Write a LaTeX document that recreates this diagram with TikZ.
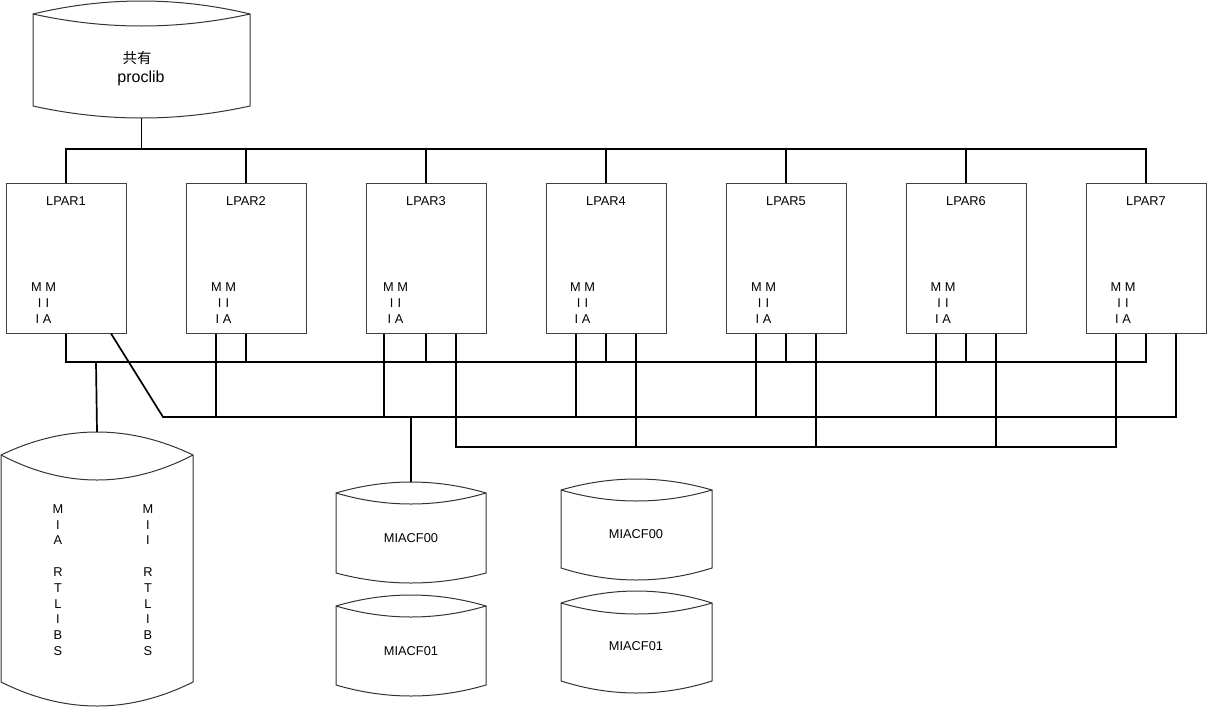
\documentclass[tikz,border=0pt]{standalone}
\usepackage{fontspec}
\setmainfont{Liberation Sans}
\newfontfamily\cjk{Noto Sans CJK JP}
\usetikzlibrary{calc}
\tikzset{
  conn/.style={line width=1.7pt, black},
  lpar/.style={draw=black!75, line width=1pt, fill=white, minimum width=120pt, minimum height=150pt, inner sep=0pt},
  drum/.style={draw=black!80, line width=1pt, fill=white},
  txt/.style={inner sep=0pt, font=\fontsize{12.8}{16}\selectfont, align=center},
  vtxt/.style={inner sep=0pt, font=\fontsize{12.8}{15.8}\selectfont, align=center},
}
% name, x1, x2, ytop side, up bulge, down bulge, ybot side, bottom bulge
\newcommand\mydrum[8]{%
  \pgfmathsetmacro\dw{(#3-#2)/3}%
  \pgfmathsetmacro\ku{4*#5/3}%
  \pgfmathsetmacro\kd{4*#6/3}%
  \pgfmathsetmacro\kb{4*#8/3}%
  \draw[drum] (#2,#4) .. controls ({#2+\dw},{#4-\ku}) and ({#3-\dw},{#4-\ku}) .. (#3,#4)
     -- (#3,#7) .. controls ({#3-\dw},{#7+\kb}) and ({#2+\dw},{#7+\kb}) .. (#2,#7) -- cycle;
  \draw[drum, fill=none] (#3,#4) .. controls ({#3-\dw},{#4+\kd}) and ({#2+\dw},{#4+\kd}) .. (#2,#4);
  \coordinate (#1-top) at ({(#2+#3)/2},{#4-#5});
  \coordinate (#1-bot) at ({(#2+#3)/2},{#7+#8});
}
\begin{document}
\begin{tikzpicture}[x=1pt,y=-1pt]
\useasboundingbox (0,0) rectangle (1207,707);
\coordinate (b1) at (0,149);
\coordinate (b2) at (0,362);
\coordinate (b3) at (0,417);
\coordinate (b4) at (0,447);

% LPAR boxes
\foreach \i in {1,...,7} {
  \pgfmathsetmacro\cx{66+180*(\i-1)}
  \node[lpar] (L\i) at (\cx,258) {};
}
% top bus
\draw[conn] (L1.north) -- (L1.north |- b1) -- (L7.north |- b1) -- (L7.north);
\foreach \i in {2,...,6} { \draw[conn] (L\i.north) -- (L\i.north |- b1); }

% proclib drum
\mydrum{proc}{33}{250}{14}{13}{12}{106}{12}
\node[inner sep=0pt, font=\cjk\fontsize{14.5}{16}\selectfont] (proct1) at (137,58) {共有};
\node[inner sep=0pt, font=\fontsize{16}{18}\selectfont, anchor=base] (proct2) at (141,82) {proclib};
\draw[conn] (proc-bot) -- (proc-bot |- b1);

% bus 2 (y=362)
\draw[conn] (L1.south) -- (L1.south |- b2) -- (L7.south |- b2) -- (L7.south);
\foreach \i in {2,...,6} { \draw[conn] (L\i.south) -- (L\i.south |- b2); }

% bus 3 (y=417)
\coordinate (d1) at ($(L1.south)+(45,0)$);
\coordinate (k3) at (163,417);
\coordinate (r3) at ($(L7.south)+(30,0)$);
\draw[conn] (d1) -- (k3) -- (r3 |- b3) -- (r3);
\coordinate (l3) at ($(L3.south)+(-42,0)$);
\draw[conn] (l3) -- (l3 |- b3);
\foreach \i in {2,4,5,6} {
  \coordinate (l\i) at ($(L\i.south)+(-30,0)$);
  \draw[conn] (l\i) -- (l\i |- b3);
}

% bus 4 (y=447)
\coordinate (r4) at ($(L3.south)+(30,0)$);
\coordinate (e4) at ($(L7.south)+(-30,0)$);
\draw[conn] (r4) -- (r4 |- b4) -- (e4 |- b4) -- (e4);
\foreach \i in {4,5,6} {
  \coordinate (q\i) at ($(L\i.south)+(30,0)$);
  \draw[conn] (q\i) -- (q\i |- b4);
}

% labels
\foreach \i in {1,...,7} {
  \node[txt] (N\i) at ($(L\i.north)+(0,19)$) {LPAR\i};
}
\foreach \i/\dx in {1/-22.5,2/-22.5,3/-30.5,4/-23.5,5/-22.5,6/-23,7/-23} {
  \node[txt] (M\i) at ($(L\i.center)+(\dx,45)$) {M M\\I\,\,I\\I A};
}

% big drum
\mydrum{big}{1}{193}{455}{23}{25}{682}{24}
\draw[conn] (96,362) coordinate (bt) -- (big-top);
\node[vtxt] (bigA) at (58,580) {M\\I\\A\\\mbox{}\\R\\T\\L\\I\\B\\S};
\node[vtxt] (bigB) at (148,580) {M\\I\\I\\\mbox{}\\R\\T\\L\\I\\B\\S};

% MIACF drums
\mydrum{c0}{336}{486}{493}{11}{11}{573}{10}
\mydrum{c1}{336}{486}{606}{11}{11}{685}{11}
\mydrum{c2}{561}{712}{490}{11}{11}{568}{12}
\mydrum{c3}{561}{712}{603}{12}{11}{681}{12}
\draw[conn] (c0-top |- b3) coordinate (ct) -- (c0-top);
\node[txt] (t0) at (411,538) {MIACF00};
\node[txt] (t1) at (411,651) {MIACF01};
\node[txt] (t2) at (636,534) {MIACF00};
\node[txt] (t3) at (636,646) {MIACF01};
\end{tikzpicture}
\end{document}
